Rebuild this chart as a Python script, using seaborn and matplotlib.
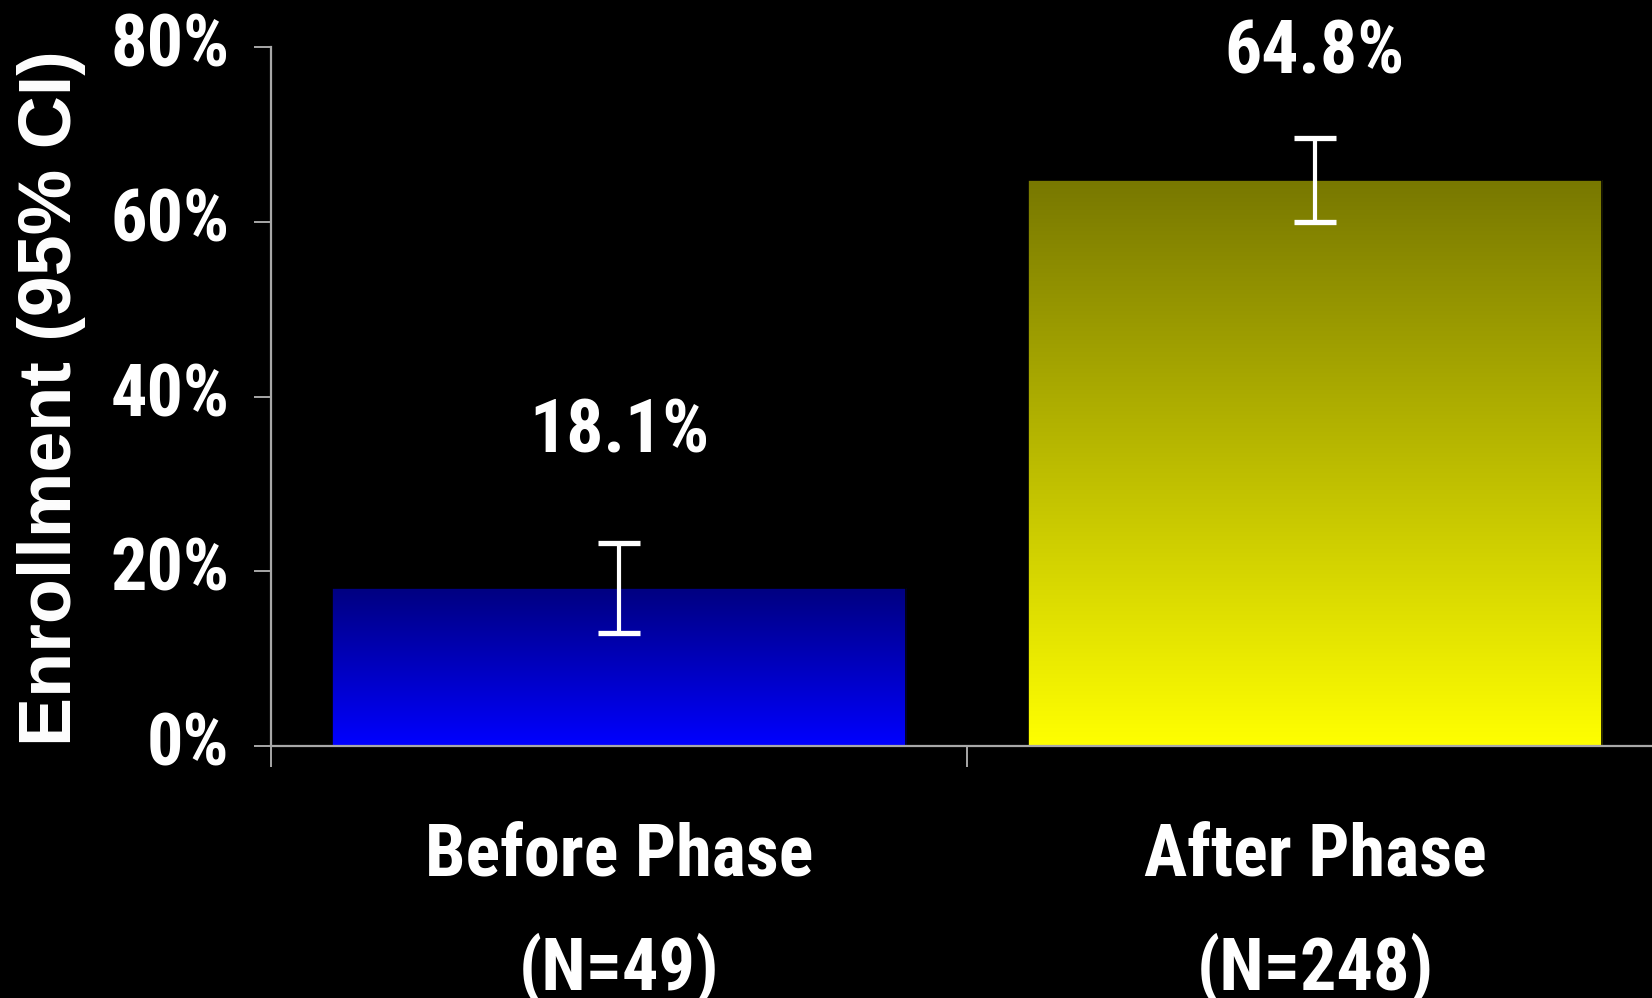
import numpy as np
import pandas as pd
import matplotlib
matplotlib.use("Agg")
import matplotlib.pyplot as plt
from matplotlib.colors import LinearSegmentedColormap
from matplotlib.ticker import FixedLocator, PercentFormatter
import seaborn as sns

# Enrollment by study phase, with 95% confidence limits
phases = ["Before Phase", "After Phase"]
sample_sizes = [49, 248]
enrollment_pct = [18.1, 64.8]
ci_lower = [12.9, 60.0]
ci_upper = [23.3, 69.6]
y_ticks = [0, 20, 40, 60, 80]

# gradient end colours per bar (top, bottom)
bar_gradients = [("#000080", "#0000ff"), ("#787800", "#ffff00")]
# vertical placement of the value labels, in axis units
label_heights = [35.9, 79.3]

sns.set_theme(style="dark", rc={
    "figure.facecolor": "black",
    "axes.facecolor": "black",
    "axes.edgecolor": "#a8a8a8",
    "axes.grid": False,
    "text.color": "white",
    "xtick.color": "#a8a8a8",
    "ytick.color": "#a8a8a8",
})
narrow = ["Roboto Condensed", "Liberation Sans Narrow", "Arial Narrow",
          "Liberation Sans", "DejaVu Sans"]
wide = ["Liberation Sans", "DejaVu Sans"]
plt.rcParams["font.family"] = narrow

fig = plt.figure(figsize=(16.52, 9.98), dpi=100)
ax = fig.add_axes([271 / 1652, 252 / 998, 1392 / 1652, 698.6 / 998])

df = pd.DataFrame({
    "phase": [f"{p}\n(N={n})" for p, n in zip(phases, sample_sizes)],
    "pct": enrollment_pct,
})
sns.barplot(data=df, x="phase", y="pct", hue="phase", legend=False,
            palette=[g[1] for g in bar_gradients], width=0.825,
            edgecolor="black", linewidth=1.2, ax=ax, zorder=2)

# fill each bar with a vertical gradient clipped to the bar shape
for patch, (top, bottom) in zip(ax.patches, bar_gradients):
    x0, w, h = patch.get_x(), patch.get_width(), patch.get_height()
    cmap = LinearSegmentedColormap.from_list("grad", [bottom, top])
    grad = np.linspace(0, 1, 256).reshape(-1, 1)
    im = ax.imshow(grad, cmap=cmap, origin="lower", aspect="auto",
                   extent=[x0, x0 + w, 0, h], zorder=2.5, interpolation="bicubic")
    im.set_clip_path(patch)
    patch.set_facecolor("none")
    patch.set_zorder(3)

xpos = np.arange(len(phases))
vals = np.array(enrollment_pct)
yerr = [vals - np.array(ci_lower), np.array(ci_upper) - vals]
eb = ax.errorbar(xpos, vals, yerr=yerr, fmt="none", ecolor="white",
                 elinewidth=3, capsize=15, capthick=3.8, zorder=5)

for x, v, ly in zip(xpos, enrollment_pct, label_heights):
    ax.text(x, ly, f"{v:.1f}%", ha="center", va="center", color="white",
            fontsize=53, fontweight="bold", family=narrow, zorder=6)

ax.set_xlim(-0.5, 1.5)
ax.set_ylim(0, 80)
ax.yaxis.set_major_locator(FixedLocator(y_ticks))
ax.yaxis.set_major_formatter(PercentFormatter(decimals=0))
ax.xaxis.set_minor_locator(FixedLocator([-0.5, 0.5, 1.5]))

for s in ["top", "right"]:
    ax.spines[s].set_visible(False)
for s in ["left", "bottom"]:
    ax.spines[s].set_linewidth(1.6)
    ax.spines[s].set_zorder(4)

ax.tick_params(axis="y", which="major", direction="out", length=12, width=1.4,
               pad=18, left=True, labelsize=52, labelcolor="white")
ax.tick_params(axis="x", which="major", length=0, pad=54, labelsize=52,
               labelcolor="white")
ax.tick_params(axis="x", which="minor", direction="out", length=15, width=1.4,
               bottom=True)
for lbl in ax.get_yticklabels():
    lbl.set_fontweight("bold")
    lbl.set_verticalalignment("center")
for lbl in ax.get_xticklabels():
    lbl.set_fontweight("bold")
    lbl.set_linespacing(1.75)

ax.set_xlabel("")
ax.set_ylabel("")
fig.text(52 / 1652, 1 - 398 / 998, "Enrollment (95% CI)", rotation=90,
         ha="center", va="center", color="white", fontsize=53,
         fontweight="bold", family=wide)

fig.savefig("out.png", dpi=100, facecolor="black")
